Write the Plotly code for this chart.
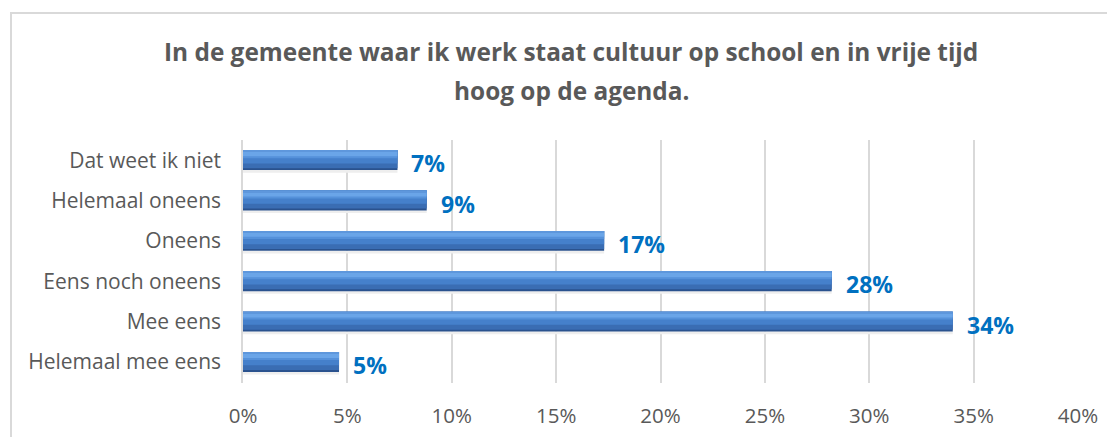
import plotly.graph_objects as go

categories = ["Helemaal mee eens", "Mee eens", "Eens noch oneens", "Oneens",
              "Helemaal oneens", "Dat weet ik niet"]
values = [4.6, 34.0, 28.2, 17.3, 8.8, 7.4]
labels = ["5%", "34%", "28%", "17%", "9%", "7%"]
tick_vals = [0, 5, 10, 15, 20, 25, 30, 35, 40]
tick_text = ["0%", "5%", "10%", "15%", "20%", "25%", "30%", "35%", "40%"]
title_lines = ["In de gemeente waar ik werk staat cultuur op school en in vrije tijd",
               "hoog op de agenda."]

# page body has an ~8px default margin; compensate
OFF = 8
W, H = 1115, 437
L, R, T, B = 243 - OFF, 37 + OFF, 140 - OFF, 54 + OFF
pw, ph = W - L - R, H - T - B

def px_x(x):  # screen x -> paper
    return (x - OFF - L) / pw

def px_y(y):  # screen y -> paper
    return 1 - (y - OFF - T) / ph

fig = go.Figure()

# layered bars to imitate the bevelled gradient look
layers = [
    (-0.31, 0.07, "#eeeeee"),   # shadow
    (-0.246, 0.492, "#2a528e"),
    (-0.20, 0.446, "#3a6db3"),
    (-0.08, 0.326, "#4580cb"),
    (0.05, 0.196, "#5591da"),
    (0.10, 0.11, "#6aa5e8"),
    (0.21, 0.036, "#5e97dc"),
]
for off, wd, col in layers:
    fig.add_trace(go.Bar(
        x=values, y=categories, orientation="h",
        offset=off, width=wd,
        marker=dict(color=col, line=dict(width=0)),
        hoverinfo="skip", showlegend=False,
    ))

for v, c, t in zip(values, categories, labels):
    fig.add_annotation(x=v, y=c, text=t, showarrow=False, xanchor="left",
                       xshift=12, yshift=-3,
                       font=dict(family="Open Sans", size=23, color="#0070C0",
                                 weight="bold"))

for line, yy in zip(title_lines, [52, 90]):
    fig.add_annotation(xref="paper", yref="paper", x=px_x(571), y=px_y(yy),
                       text="<b>" + line + "</b>", showarrow=False,
                       xanchor="center", yanchor="middle",
                       font=dict(family="Open Sans", size=24.4, color="#595959"))

# chart border (extends past the right and bottom edges)
fig.add_shape(type="rect", xref="paper", yref="paper",
              x0=px_x(11), x1=px_x(W + 20),
              y0=px_y(H + 20), y1=px_y(13),
              line=dict(color="#d9d9d9", width=2), layer="below")

fig.update_layout(
    width=W, height=H,
    margin=dict(l=L, r=R, t=T, b=B, pad=0),
    barmode="overlay",
    plot_bgcolor="white", paper_bgcolor="white",
    font=dict(family="Open Sans", color="#595959", size=18),
    xaxis=dict(range=[0, 40], tickvals=tick_vals, ticktext=tick_text,
               showgrid=True, gridcolor="#d9d9d9", gridwidth=1.5,
               zeroline=False, showline=False, ticks="",
               tickfont=dict(size=20.5, color="#595959"), ticklabelstandoff=18),
    yaxis=dict(categoryorder="array", categoryarray=categories,
               showgrid=False, zeroline=False, showline=True,
               linecolor="#d9d9d9", linewidth=1.5, ticks="",
               tickfont=dict(size=21, color="#595959"), ticklabelstandoff=16),
)

fig.write_html("out.html")
